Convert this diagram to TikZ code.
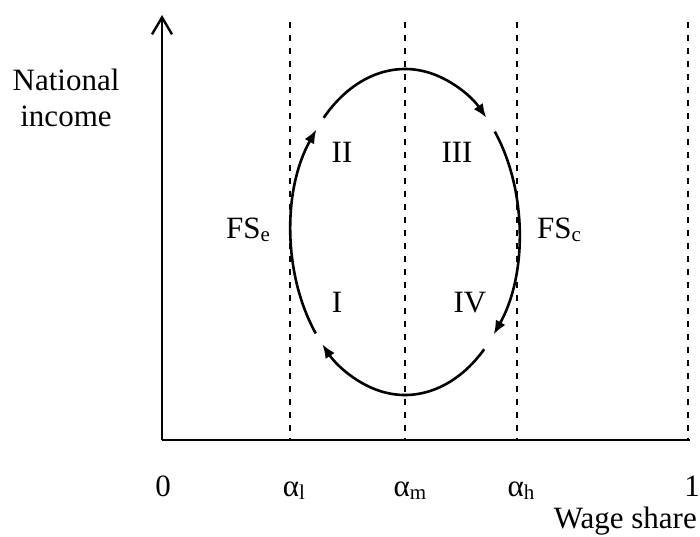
\documentclass[tikz,border=0pt]{standalone}
\usepackage{fontspec}
\setmainfont{Liberation Serif}
\usetikzlibrary{arrows.meta,calc}
\tikzset{
  axisline/.style={line width=2.4pt, line cap=butt},
  guide/.style={line width=1.6pt, dash pattern=on 6pt off 7pt},
  cycle/.style={line width=2.6pt, -{Latex[length=14pt,width=11pt]}},
  lbl/.style={inner sep=0pt, anchor=base, font=\fontsize{31}{36}\selectfont},
}
\newcommand{\sbs}[1]{\raisebox{-3.5pt}{\fontsize{21}{21}\selectfont #1}}
\begin{document}
\begin{tikzpicture}[x=1pt,y=-1pt]
\useasboundingbox (0,0) rectangle (700,537);
% axes
\coordinate (O) at (162,440);
\coordinate (ytop) at (162,15);
\coordinate (xend) at (690,440);
\draw[axisline, -{Straight Barb[length=17pt,width=20pt,line width=2.4pt]}] (O) -- (ytop);
\draw[axisline] (O) -- (xend);
% dashed guides
\foreach \n/\x in {l/290, m/405, h/517, one/688}{
  \coordinate (top\n) at (\x,22);
  \coordinate (bot\n) at (\x,440);
  \draw[guide] (top\n) -- (bot\n);
}
% cycle (ellipse centre (405,232), rx 114, ry 163)
\coordinate (C) at (405,232);
\draw[cycle] ($(C)+({114*cos(141.5)},{163*sin(141.5)})$) arc[x radius=114, y radius=163, start angle=141.5, end angle=219];
\draw[cycle] ($(C)+({114*cos(224.5)},{163*sin(224.5)})$) arc[x radius=114, y radius=163, start angle=224.5, end angle=315.5];
\draw[cycle] ($(C)+({114*cos(322)},{163*sin(322)})$) arc[x radius=114, y radius=163, start angle=322, end angle=399];
\draw[cycle] ($(C)+({114*cos(46)},{163*sin(46)})$) arc[x radius=114, y radius=163, start angle=46, end angle=136.5];
% labels
\node[lbl, align=center, anchor=base] (ni) at (66,127) {National\\income};
\node[lbl] (II) at (342,163) {II};
\node[lbl] (III) at (457,163) {III};
\node[lbl] (I) at (337,312) {I};
\node[lbl] (IV) at (470,312) {IV};
\node[lbl, anchor=base west] (fse) at (226,238) {FS\sbs{e}};
\node[lbl, anchor=base west] (fsc) at (537,238) {FS\sbs{c}};
\node[lbl] (zero) at (163,496) {0};
\node[lbl] (al) at (294,496) {α\sbs{l}};
\node[lbl] (am) at (410,496) {α\sbs{m}};
\node[lbl] (ah) at (521,496) {α\sbs{h}};
\node[lbl] (one) at (692,496) {1};
\node[lbl, anchor=base east] (ws) at (697,528) {Wage share};
\end{tikzpicture}
\end{document}
